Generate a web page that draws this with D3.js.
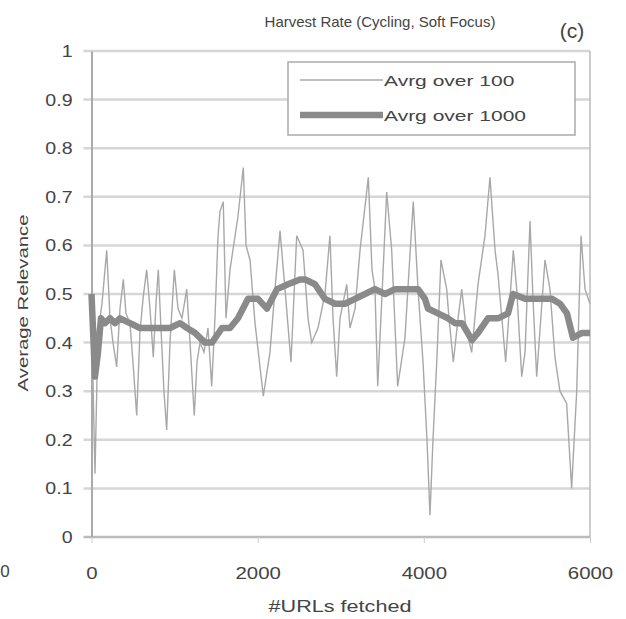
<!DOCTYPE html>
<html>
<head>
<meta charset="utf-8">
<script src="https://cdn.jsdelivr.net/npm/d3@7"></script>
<style>
body{margin:0;background:#fff;}
.canvas{width:626px;height:619px;}
text{font-family:"Liberation Sans",Arial,sans-serif;fill:#444;}
</style>
</head>
<body>
<div class="canvas" id="user"></div>
<script>

// data

var urls100 = [0,20,42,78,126,183,223,259,303,343,383,415,463,499,544,583,620,664,704,744,776,804,836,872,905,945,997,1041,1089,1146,1186,1237,1270,1306,1354,1402,1447,1486,1523,1547,1586,1619,1667,1763,1827,1860,1908,1968,2028,2068,2148,2209,2269,2329,2401,2470,2546,2606,2650,2726,2810,2870,2907,2951,2991,3072,3111,3172,3232,3332,3376,3412,3445,3497,3553,3613,3685,3773,3822,3873,3930,3990,4038,4074,4110,4158,4206,4275,4303,4355,4412,4456,4508,4576,4652,4736,4796,4857,4893,4985,5077,5118,5178,5218,5278,5314,5358,5458,5518,5578,5638,5719,5779,5840,5892,5940,6000];
var avg100 = [0.50,0.30,0.13,0.42,0.48,0.59,0.45,0.40,0.35,0.47,0.53,0.46,0.44,0.36,0.25,0.42,0.49,0.55,0.47,0.37,0.48,0.55,0.43,0.30,0.22,0.40,0.55,0.47,0.45,0.51,0.40,0.25,0.36,0.40,0.38,0.43,0.31,0.45,0.62,0.67,0.69,0.45,0.55,0.66,0.76,0.60,0.57,0.44,0.35,0.29,0.38,0.51,0.63,0.51,0.36,0.62,0.59,0.45,0.40,0.43,0.50,0.62,0.45,0.33,0.45,0.52,0.43,0.47,0.59,0.74,0.55,0.51,0.31,0.50,0.71,0.59,0.31,0.41,0.55,0.69,0.51,0.36,0.20,0.045,0.20,0.37,0.57,0.51,0.45,0.36,0.45,0.51,0.43,0.38,0.52,0.62,0.74,0.59,0.54,0.36,0.59,0.51,0.33,0.38,0.65,0.49,0.33,0.57,0.51,0.37,0.30,0.275,0.10,0.30,0.62,0.51,0.48];

var urls1000 = [0,20,42,78,114,162,223,283,343,463,583,704,824,945,1065,1149,1246,1366,1450,1571,1667,1763,1884,2004,2112,2233,2365,2510,2570,2690,2810,2931,3051,3172,3292,3412,3533,3653,3773,3930,4014,4050,4170,4291,4375,4459,4579,4652,4772,4893,5013,5073,5218,5374,5543,5639,5723,5795,5904,6000];
var avg1000 = [0.50,0.42,0.33,0.38,0.45,0.44,0.45,0.44,0.45,0.44,0.43,0.43,0.43,0.43,0.44,0.43,0.42,0.40,0.40,0.43,0.43,0.45,0.49,0.49,0.47,0.51,0.52,0.53,0.53,0.52,0.49,0.48,0.48,0.49,0.50,0.51,0.50,0.51,0.51,0.51,0.49,0.47,0.46,0.45,0.44,0.44,0.405,0.42,0.45,0.45,0.46,0.50,0.49,0.49,0.49,0.48,0.46,0.41,0.42,0.42];

var xTicks = [0,2000,4000,6000];
var yTicks = [0,0.1,0.2,0.3,0.4,0.5,0.6,0.7,0.8,0.9,1];
var seriesNames = ["Avrg over 100","Avrg over 1000"];

var margin = {t:51,l:91.5,b:82,r:36},
    width = 626-margin.l-margin.r,
    height = 619-margin.t-margin.b;

var svg = d3.select('.canvas')
    .append('svg')
    .attr('width',626)
    .attr('height',619);

var x = d3.scaleLinear().domain([0,6000]).range([0,width]);
var y = d3.scaleLinear().domain([0,1]).range([height,0]);

// the source picture is stretched sideways, so widen text a bit
function stretch(sel,k){
    sel.each(function(){
        var w = this.getComputedTextLength();
        d3.select(this).attr("textLength",w*k).attr("lengthAdjust","spacingAndGlyphs");
    });
}

var g = svg.append("g")
    .attr("transform","translate("+margin.l+","+margin.t+")");

// grid
g.selectAll(".grid")
    .data(yTicks)
    .enter().append("line")
    .attr("x1",-8)
    .attr("x2",width)
    .attr("y1",function(d){return y(d);})
    .attr("y2",function(d){return y(d);})
    .attr("stroke",function(d){return d==0?"#bbb":"#d6d6d6";})
    .attr("stroke-width",2.5);

// right border
g.append("line")
    .attr("x1",width).attr("x2",width)
    .attr("y1",0).attr("y2",height)
    .attr("stroke","#bbb").attr("stroke-width",1.5);

// axes
var yAxis = g.append("g")
    .call(d3.axisLeft(y).tickValues(yTicks).tickSize(0).tickPadding(19).tickFormat(d3.format("~g")));
yAxis.select(".domain").attr("stroke","#aaa").attr("stroke-width",2);
yAxis.selectAll("text").attr("font-size","17px").style("font-family","Liberation Sans, Arial").attr("fill","#555");
stretch(yAxis.selectAll("text"),1.15);

var xAxis = g.append("g")
    .attr("transform","translate(0,"+height+")")
    .call(d3.axisBottom(x).tickValues(xTicks).tickSize(6).tickPadding(24).tickFormat(d3.format("d")));
xAxis.select(".domain").remove();
xAxis.selectAll("line").attr("stroke","#ccc");
xAxis.selectAll("text").attr("font-size","17px").style("font-family","Liberation Sans, Arial").attr("fill","#555");
stretch(xAxis.selectAll("text"),1.2);

// lines
var line100 = d3.line()
    .x(function(d,i){return x(urls100[i]);})
    .y(function(d){return y(d);});
var line1000 = d3.line()
    .x(function(d,i){return x(urls1000[i]);})
    .y(function(d){return y(d);});

g.append("path")
    .datum(avg100)
    .attr("d",line100)
    .attr("fill","none")
    .attr("stroke","#a8a8a8")
    .attr("stroke-width",1.4);

g.append("path")
    .datum(avg1000)
    .attr("d",line1000)
    .attr("fill","none")
    .attr("stroke","#8a8a8a")
    .attr("stroke-width",6.5)
    .attr("stroke-linejoin","round");

// legend
var leg = svg.append("g").attr("transform","translate(288,62)");
leg.append("rect")
    .attr("width",287).attr("height",73)
    .attr("fill","#fff").attr("stroke","#aaa").attr("stroke-width",1.5);
leg.selectAll(".lg")
    .data(seriesNames)
    .enter().append("line")
    .attr("x1",12).attr("x2",95)
    .attr("y1",function(d,i){return 18+i*35;})
    .attr("y2",function(d,i){return 18+i*35;})
    .attr("stroke",function(d,i){return i==0?"#a8a8a8":"#8a8a8a";})
    .attr("stroke-width",function(d,i){return i==0?1.4:6.5;});
var legText = leg.selectAll(".lt")
    .data(seriesNames)
    .enter().append("text")
    .attr("x",96)
    .attr("y",function(d,i){return 24+i*35;})
    .attr("font-size","15px")
    .attr("fill","#555")
    .text(function(d){return d;});
stretch(legText,1.4);

// titles
svg.append("text")
    .attr("x",380).attr("y",27)
    .attr("text-anchor","middle")
    .attr("font-size","15px")
    .attr("fill","#555")
    .text("Harvest Rate (Cycling, Soft Focus)");

svg.append("text")
    .attr("x",572).attr("y",38)
    .attr("text-anchor","middle")
    .attr("font-size","21px")
    .attr("fill","#444")
    .text("(c)");

var xTitle = svg.append("text")
    .attr("x",340).attr("y",612)
    .attr("text-anchor","middle")
    .attr("font-size","16px")
    .attr("fill","#555")
    .text("#URLs fetched");
stretch(xTitle,1.35);

var yTitle = svg.append("text")
    .attr("transform","translate(28,303) rotate(-90)")
    .attr("text-anchor","middle")
    .attr("font-size","14px")
    .attr("fill","#555")
    .text("Average Relevance");
stretch(yTitle,1.45);

// stray label from the neighbouring panel
svg.append("text")
    .attr("x",5).attr("y",577)
    .attr("text-anchor","middle")
    .attr("font-size","17px")
    .attr("fill","#555")
    .text("0");

</script>
</body>
</html>
